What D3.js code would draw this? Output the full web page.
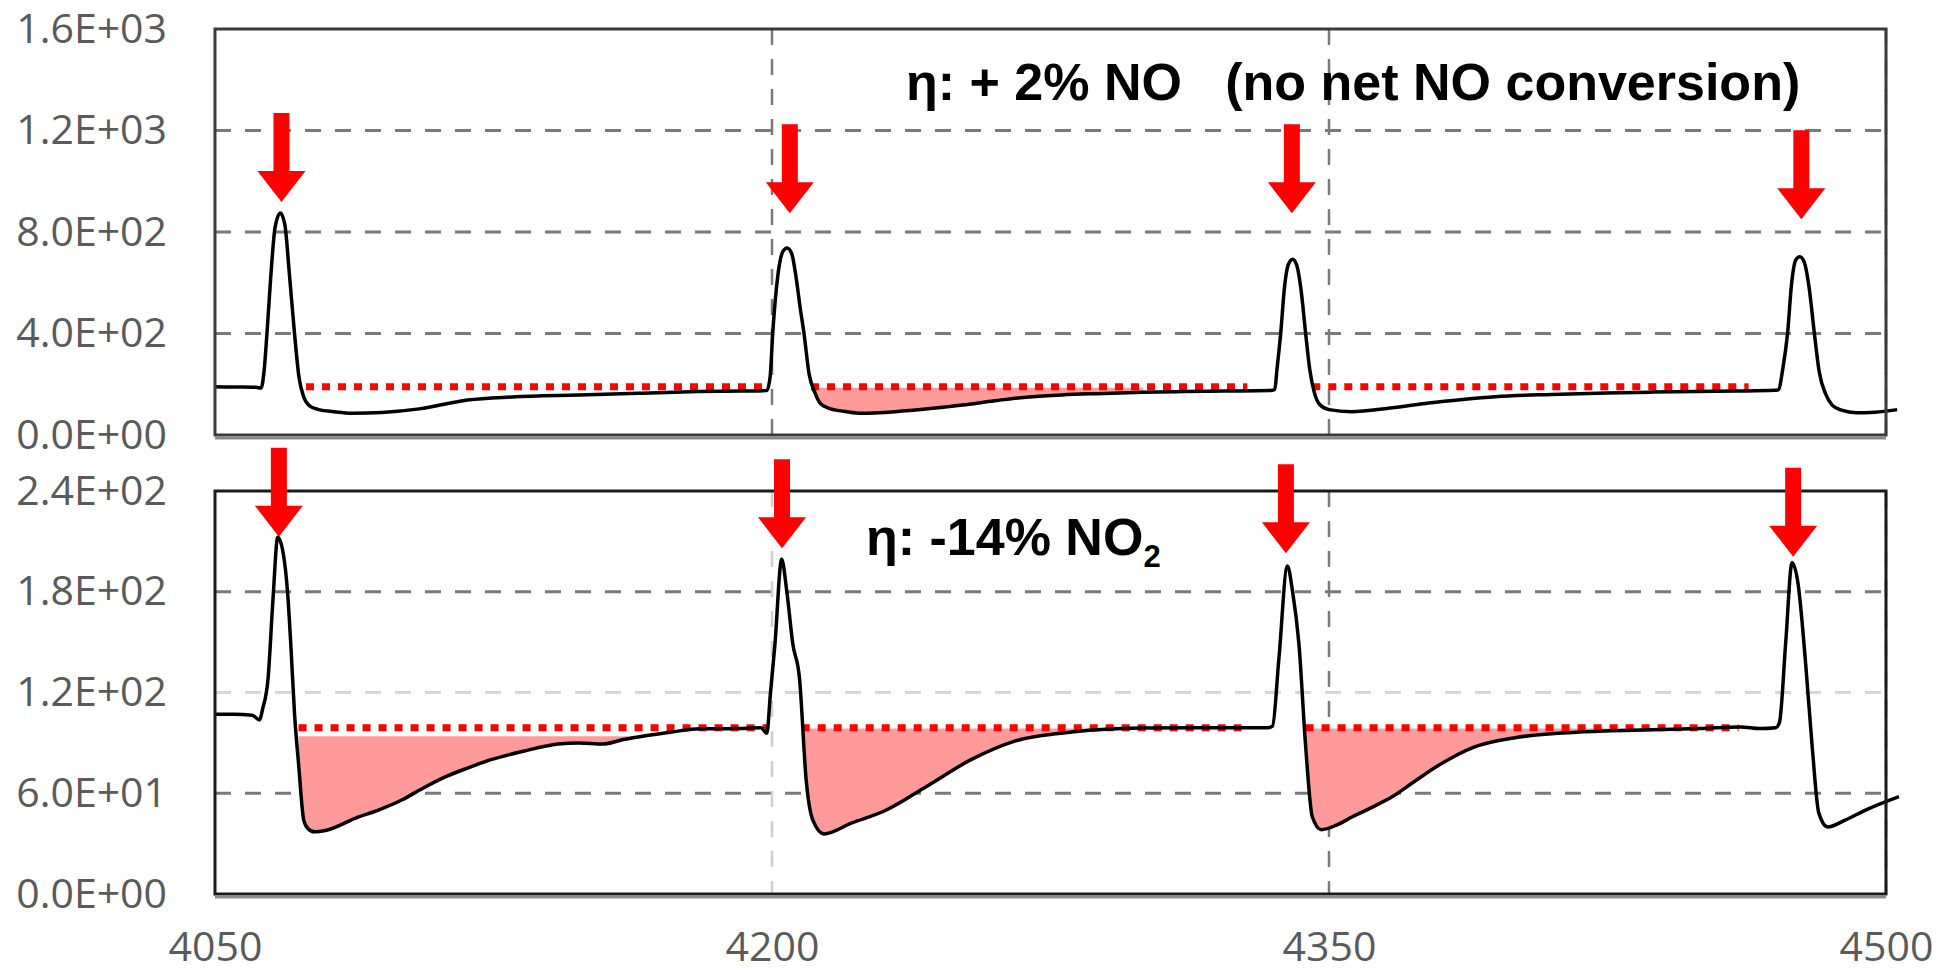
<!DOCTYPE html>
<html>
<head>
<meta charset="utf-8">
<script src="https://cdn.jsdelivr.net/npm/d3@7"></script>
<style>
  body { margin: 0; background: #fff; }
  svg { display: block; }
</style>
</head>
<body>
<div id="chart"></div>
<script>
var width = 1950;
var height = 973;

// time axis
var xTicks = [4050, 4200, 4350, 4500];

// upper trace: NO
var noTime = [4050, 4056, 4061, 4062.4, 4063.2, 4064, 4065, 4066.2, 4067.6, 4068.8, 4070, 4071.4, 4072.6, 4073.9, 4075.5, 4078, 4082, 4087, 4095, 4105, 4118, 4130, 4148, 4165, 4180, 4192, 4198.6,
  4199.5, 4200.2, 4201.5, 4203, 4204.1, 4205.3, 4206.5, 4207.6, 4208.6, 4210, 4211.6, 4213, 4215.2, 4219, 4223.6, 4233.2, 4242, 4251.3, 4260, 4269.3, 4278, 4287.2, 4300, 4311, 4322, 4334,
  4335.4, 4336, 4337, 4338, 4339, 4340.2, 4341.3, 4342.4, 4343.7, 4344.8, 4346, 4347.5, 4350, 4356, 4366, 4376.8, 4386, 4394.8, 4410, 4424.8, 4437, 4448.8, 4460, 4470,
  4471, 4472.2, 4473.5, 4474.6, 4475.7, 4476.8, 4478, 4479.3, 4480.7, 4482, 4483.8, 4485.5, 4488, 4492, 4497, 4503];
var noValue = [190, 189, 188, 185, 250, 402, 620, 820, 875, 830, 640, 402, 230, 150, 115, 100, 92, 86, 89, 103, 138, 150, 158, 165, 171, 173, 175,
  230, 402, 620, 725, 737, 715, 620, 500, 402, 240, 165, 125, 106, 94, 86, 92, 103, 118, 135, 150, 158, 163, 168, 171, 173, 175,
  180, 260, 402, 580, 670, 693, 670, 580, 402, 260, 170, 120, 100, 92, 105, 126, 140, 151, 160, 166, 169, 171, 173, 176,
  178, 260, 402, 600, 690, 702, 680, 580, 402, 250, 160, 118, 98, 88, 90, 100];

// lower trace: NO2
var no2Time = [4050, 4055, 4060, 4062, 4062.8, 4064.3, 4065.6, 4066.9, 4068.2, 4069.6, 4070.5, 4071.4, 4072.6, 4073.9, 4075, 4076.8, 4080, 4088.5, 4094, 4100.3, 4106, 4112.3, 4118, 4124.3, 4133, 4142.4, 4148, 4154.4, 4160, 4166.4, 4173, 4180.6, 4190, 4197,
  4198.6, 4199.6, 4200.8, 4202.6, 4204, 4205.6, 4207.4, 4209.2, 4211, 4214, 4221.2, 4230.8, 4241.6, 4253.6, 4265.6, 4281.3, 4299.3, 4315, 4333.5,
  4334.8, 4336.5, 4338.8, 4340.2, 4341.9, 4343.7, 4345.5, 4347.9, 4352, 4356.3, 4361, 4367.1, 4373, 4379.2, 4388.7, 4400.8, 4418.8, 4436.9, 4450, 4460.9, 4466, 4470.3,
  4471.3, 4473, 4474.7, 4476.3, 4478.3, 4480.1, 4481.9, 4484.3, 4489, 4494.5, 4503.5];
var no2Value = [107, 107, 106.5, 103.6, 110, 128.6, 175, 212.4, 205, 178, 145, 108, 75, 44, 39, 37, 38, 45.8, 50, 56, 63, 70, 75, 80, 85, 89.3, 90, 89.3, 92, 94.4, 96.5, 98.4, 98.5, 99,
  95.7, 120, 149, 199.3, 180, 149, 128.6, 68, 44, 35.8, 42, 50, 64, 80, 91.2, 96.6, 98.8, 99, 99,
  100, 140, 195.3, 180, 149, 88.4, 46, 38.3, 41, 46, 51, 58, 67, 76.2, 87.2, 93.3, 96.6, 97.8, 98.5, 99.5, 98.5, 99,
  102, 150, 197.3, 185, 138.8, 88.4, 48.3, 39.9, 44, 50, 58];

// reference levels (dotted red): [from, to]
var noBaseline = [[4074.5, 4199], [4210.5, 4328], [4345.5, 4463]];
var noLevel = 190;
var no2Baseline = [[4072.5, 4198.6], [4208, 4326.4], [4343.7, 4460.3]];
var no2Level = 99;

// shaded deficits: [from, to, top level]
var noFill = [[4210.5, 4300, 186]];
var no2Fill = [[4072.5, 4175, 94], [4208, 4305, 98.5], [4343.7, 4435, 98.5]];

// arrow tips [time, value]
var noArrows = [[4067.9, 918], [4204.8, 874], [4340, 874], [4477.2, 850]];
var no2Arrows = [[4067.2, 212.8], [4202.7, 205.9], [4338.4, 202.9], [4475, 200.9]];

var noTicks = [0, 400, 800, 1200, 1600];
var no2Ticks = [0, 60, 120, 180, 240];

var svg = d3.select("#chart").append("svg")
  .attr("width", width)
  .attr("height", height);

var x = d3.scaleLinear().domain([4050, 4500]).range([215, 1886]);
var yTop = d3.scaleLinear().domain([0, 1600]).range([435, 29]);
var yBot = d3.scaleLinear().domain([0, 240]).range([894, 491]);

var sci = function(v) {
  var s = v.toExponential(1).split("e");
  var e = +s[1];
  return s[0] + "E" + (e < 0 ? "-" : "+") + (Math.abs(e) < 10 ? "0" : "") + Math.abs(e);
};

var interp = function(ts, vs, t) {
  for (var i = 1; i < ts.length; i++) {
    if (ts[i] >= t) {
      var f = (t - ts[i - 1]) / (ts[i] - ts[i - 1]);
      return vs[i - 1] + f * (vs[i] - vs[i - 1]);
    }
  }
  return vs[vs.length - 1];
};

var drawPanel = function(cfg) {
  var g = svg.append("g");
  var y = cfg.y;

  // horizontal grid
  g.selectAll(".hgrid").data(cfg.ticks.slice(1, -1)).enter().append("line")
    .attr("x1", x.range()[0]).attr("x2", x.range()[1])
    .attr("y1", function(d) { return y(d); })
    .attr("y2", function(d) { return y(d); })
    .attr("stroke", function(d) { return cfg.lightH.indexOf(d) >= 0 ? "#d6d6d6" : "#7a7a7a"; })
    .attr("stroke-width", 3)
    .attr("stroke-dasharray", "16,14");

  // vertical grid
  g.selectAll(".vgrid").data(xTicks.slice(1)).enter().append("line")
    .attr("x1", function(d) { return x(d); })
    .attr("x2", function(d) { return x(d); })
    .attr("y1", y.range()[1]).attr("y2", y.range()[0])
    .attr("stroke", function(d) { return cfg.lightV.indexOf(d) >= 0 ? "#cfcfcf" : "#7a7a7a"; })
    .attr("stroke-width", 2.5)
    .attr("stroke-dasharray", "16,14");

  // shaded area between reference level and trace
  cfg.fills.forEach(function(f) {
    var pts = [[f[0], Math.min(f[2], interp(cfg.t, cfg.v, f[0]))]];
    cfg.t.forEach(function(t, i) {
      if (t > f[0] && t < f[1]) pts.push([t, Math.min(f[2], cfg.v[i])]);
    });
    pts.push([f[1], Math.min(f[2], interp(cfg.t, cfg.v, f[1]))]);
    g.append("path")
      .datum(pts)
      .attr("fill", "#ff9a9a")
      .attr("d", d3.area()
        .x(function(d) { return x(d[0]); })
        .y0(y(f[2]))
        .y1(function(d) { return y(d[1]); })
        .curve(d3.curveMonotoneX));
  });

  // dotted reference level
  g.selectAll(".base").data(cfg.base).enter().append("line")
    .attr("x1", function(d) { return x(d[0]); })
    .attr("x2", function(d) { return x(d[1]); })
    .attr("y1", y(cfg.level)).attr("y2", y(cfg.level))
    .attr("stroke", "#ff0000")
    .attr("stroke-width", 7)
    .attr("stroke-dasharray", "8,8");

  // trace
  g.append("path")
    .datum(d3.zip(cfg.t, cfg.v))
    .attr("fill", "none")
    .attr("stroke", "#000")
    .attr("stroke-width", 3.5)
    .attr("stroke-linejoin", "round")
    .attr("d", d3.line()
      .x(function(d) { return x(d[0]); })
      .y(function(d) { return y(d[1]); })
      .curve(d3.curveMonotoneX));

  // frame
  g.append("rect")
    .attr("x", x.range()[0]).attr("y", y.range()[1])
    .attr("width", x.range()[1] - x.range()[0])
    .attr("height", y.range()[0] - y.range()[1])
    .attr("fill", "none")
    .attr("stroke", cfg.frame)
    .attr("stroke-width", 3);
  g.append("line")
    .attr("x1", x.range()[0]).attr("x2", x.range()[1])
    .attr("y1", y.range()[0] + 3).attr("y2", y.range()[0] + 3)
    .attr("stroke", "#8a8a8a").attr("stroke-width", 3);

  // y axis labels
  var ax = g.append("g")
    .attr("transform", "translate(" + x.range()[0] + ",0)")
    .call(d3.axisLeft(y).tickValues(cfg.ticks).tickFormat(sci).tickSize(0).tickPadding(48));
  ax.select(".domain").remove();
  ax.selectAll("text")
    .attr("fill", "#5a5a5a")
    .style("font-family", "'Open Sans', sans-serif")
    .style("font-size", "41px");

  // arrows
  g.selectAll(".arrow").data(cfg.arrows).enter().append("path")
    .attr("fill", "#ff0000")
    .attr("d", function(d) {
      var ax = x(d[0]), ay = y(d[1]);
      return "M" + (ax - 8) + "," + (ay - 89) + "L" + (ax + 8) + "," + (ay - 89) +
        "L" + (ax + 8) + "," + (ay - 31) + "L" + (ax + 24) + "," + (ay - 31) +
        "L" + ax + "," + ay + "L" + (ax - 24) + "," + (ay - 31) +
        "L" + (ax - 8) + "," + (ay - 31) + "Z";
    });
  return g;
};

drawPanel({
  y: yTop, t: noTime, v: noValue, ticks: noTicks,
  base: noBaseline, level: noLevel, fills: noFill, arrows: noArrows,
  lightH: [], lightV: [], frame: "#3a3a3a"
});
drawPanel({
  y: yBot, t: no2Time, v: no2Value, ticks: no2Ticks,
  base: no2Baseline, level: no2Level, fills: no2Fill, arrows: no2Arrows,
  lightH: [120], lightV: [4200], frame: "#1a1a1a"
});

// x axis labels
var xa = svg.append("g")
  .attr("transform", "translate(0," + yBot.range()[0] + ")")
  .call(d3.axisBottom(x).tickValues(xTicks).tickFormat(d3.format("d")).tickSize(0).tickPadding(38));
xa.select(".domain").remove();
xa.selectAll("text")
  .attr("fill", "#5a5a5a")
  .style("font-family", "'Open Sans', sans-serif")
  .style("font-size", "41px");

// annotations
svg.append("text")
  .attr("x", 906).attr("y", 100)
  .style("font-family", "'Liberation Sans', Arial, sans-serif")
  .style("font-weight", "bold")
  .style("font-size", "52px")
  .style("white-space", "pre")
  .text("\u03b7: + 2% NO   (no net NO conversion)");

var t2 = svg.append("text")
  .attr("x", 866).attr("y", 555)
  .style("font-family", "'Liberation Sans', Arial, sans-serif")
  .style("font-weight", "bold")
  .style("font-size", "52px");
t2.append("tspan").text("\u03b7: -14% NO");
t2.append("tspan").attr("dy", 12).style("font-size", "31px").text("2");
</script>
</body>
</html>
